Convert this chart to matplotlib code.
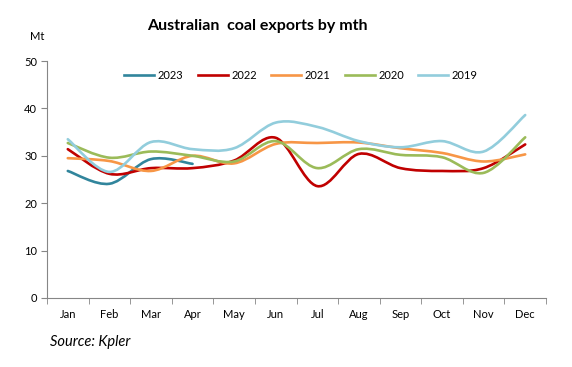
import matplotlib.pyplot as plt
from matplotlib.path import Path
from matplotlib.patches import PathPatch
from matplotlib.lines import Line2D
import numpy as np

plt.rcParams['font.family'] = ['Lato', 'DejaVu Sans']

months = ['Jan', 'Feb', 'Mar', 'Apr', 'May', 'Jun', 'Jul', 'Aug', 'Sep', 'Oct', 'Nov', 'Dec']
y2023 = [26.8, 24.1, 29.3, 28.3]
y2022 = [31.4, 26.2, 27.4, 27.4, 29.0, 33.8, 23.6, 30.4, 27.4, 26.8, 27.4, 32.4]
y2021 = [29.5, 28.9, 26.8, 30.0, 28.4, 32.5, 32.7, 32.8, 31.6, 30.6, 28.8, 30.3]
y2020 = [32.7, 29.6, 30.9, 30.0, 28.8, 33.1, 27.4, 31.4, 30.2, 29.7, 26.4, 33.9]
y2019 = [33.5, 26.6, 32.9, 31.4, 31.6, 37.0, 36.1, 33.1, 31.8, 33.1, 30.9, 38.6]

series = [('2023', y2023, '#31859c'), ('2022', y2022, '#c00000'),
          ('2021', y2021, '#f79646'), ('2020', y2020, '#9bbb59'),
          ('2019', y2019, '#92cddc')]


def smooth_path(xs, ys):
    # Excel style smoothed line: cubic bezier with catmull-rom control points
    pts = np.column_stack([xs, ys])
    verts = [pts[0]]
    codes = [Path.MOVETO]
    n = len(pts)
    for i in range(n - 1):
        p0 = pts[i - 1] if i > 0 else pts[i]
        p1 = pts[i]
        p2 = pts[i + 1]
        p3 = pts[i + 2] if i + 2 < n else pts[i + 1]
        c1 = p1 + (p2 - p0) / 6.0
        c2 = p2 - (p3 - p1) / 6.0
        verts += [c1, c2, p2]
        codes += [Path.CURVE4] * 3
    return Path(verts, codes)


fig = plt.figure(figsize=(5.72, 3.67), dpi=100)
ax = fig.add_axes([47 / 572, 69 / 367, 499 / 572, 237 / 367])

handles = []
for name, vals, col in series:
    xs = np.arange(len(vals))
    ax.add_patch(PathPatch(smooth_path(xs, vals), facecolor='none', edgecolor=col,
                           lw=1.9, capstyle='round'))
    handles.append(Line2D([], [], color=col, lw=1.9, label=name))

ax.set_xlim(-0.5, 11.5)
ax.set_ylim(0, 50)
ax.set_yticks(range(0, 51, 10))
ax.set_xticks(range(12))
ax.set_xticklabels(months)
ax.set_xticks(np.arange(-0.5, 12, 1), minor=True)
ax.tick_params(axis='x', which='major', length=0, pad=8, labelsize=8)
ax.tick_params(axis='x', which='minor', length=4, color='#868686', direction='out')
ax.tick_params(axis='y', length=4, color='#868686', labelsize=8, pad=3)
for s in ['top', 'right']:
    ax.spines[s].set_visible(False)
for s in ['left', 'bottom']:
    ax.spines[s].set_color('#868686')

ax.legend(handles=handles, ncol=5, frameon=False, fontsize=8, loc='center',
          bbox_to_anchor=(0.509, 0.94), handlelength=2.7, columnspacing=1.3,
          handletextpad=0.3)

fig.text(257 / 572, 1 - 26 / 367, 'Australian  coal exports by mth', ha='center',
         va='center', fontsize=11.5, fontweight='bold')
fig.text(37 / 572, 1 - 37 / 367, 'Mt', ha='center', va='center', fontsize=8)
fig.text(50 / 572, 1 - 342 / 367, 'Source: Kpler', ha='left', va='center',
         fontsize=10.5, style='italic')

fig.savefig('out.png', dpi=100)
